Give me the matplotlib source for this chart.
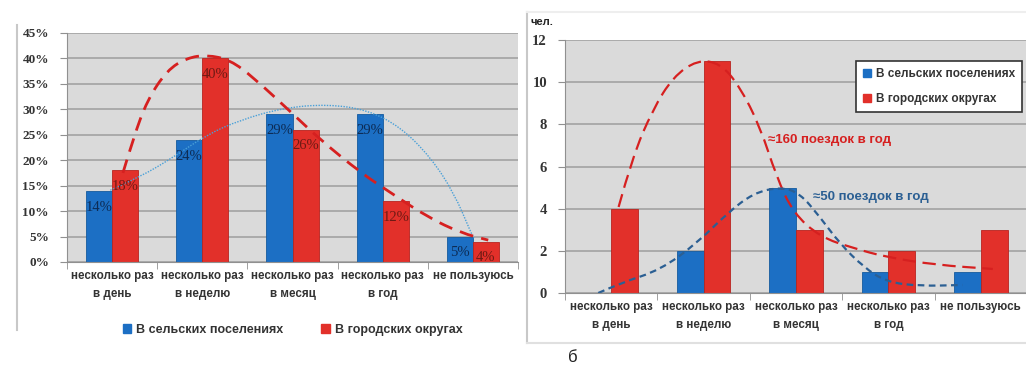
import matplotlib.pyplot as plt
import numpy as np
from matplotlib.patches import Rectangle, PathPatch
from matplotlib.path import Path
from matplotlib.lines import Line2D

plt.rcParams['font.family'] = ['Liberation Sans', 'DejaVu Sans']

categories = ['несколько раз\nв день', 'несколько раз\nв неделю', 'несколько раз\nв месяц',
              'несколько раз\nв год', 'не пользуюсь']
series_names = ['В сельских поселениях', 'В городских округах']

# left chart, percent
rural_pct = [14, 24, 29, 29, 5]
urban_pct = [18, 40, 26, 12, 4]

# right chart, persons
rural_cnt = [0, 2, 5, 1, 1]
urban_cnt = [4, 11, 3, 2, 3]

# hand-drawn trend curves (x in category units)
urban_trend_pct_x = [0.12, 0.24, 0.39, 0.61, 0.83, 1.05, 1.31, 1.57, 1.98, 2.31, 2.76, 3.09, 3.5, 3.87, 4.17]
urban_trend_pct_y = [17.5, 24.6, 31.8, 37.7, 40.1, 40.7, 39.7, 36.2, 29.5, 24.0, 17.5, 13.6, 8.8, 5.7, 4.3]
rural_trend_pct_x = [-0.02, 0.31, 0.68, 1.05, 1.42, 1.9, 2.39, 2.83, 3.2, 3.53, 3.79, 3.98, 4.01]
rural_trend_pct_y = [14.1, 16.7, 20.6, 25.0, 27.9, 30.3, 31.0, 29.9, 26.5, 20.6, 13.6, 5.7, 4.7]

urban_trend_cnt_x = [0.08, 0.23, 0.45, 0.67, 0.93, 1.18, 1.39, 1.61, 1.79, 1.97, 2.26, 2.62, 2.98, 3.52, 4.13]
urban_trend_cnt_y = [4.08, 6.45, 8.7, 10.25, 11.05, 10.9, 9.8, 7.9, 5.5, 3.8, 2.66, 2.13, 1.7, 1.33, 1.14]
rural_trend_cnt_x = [-0.14, 0.1, 0.53, 0.93, 1.26, 1.54, 1.83, 2.04, 2.26, 2.47, 2.73, 2.98, 3.34, 3.8]
rural_trend_cnt_y = [0.0, 0.47, 1.09, 2.37, 3.8, 4.74, 5.03, 4.74, 3.6, 2.37, 1.23, 0.52, 0.33, 0.38]

blue = '#1c6fc4'
red = '#e2302a'
bg = '#dadada'
grid = '#a2a2a2'
txt = '#333333'


def smooth_curve(ax, xs, ys, **kw):
    # quadratic bezier through midpoints, read points act as control points
    pts = list(zip(xs, ys))
    verts = [pts[0]]
    codes = [Path.MOVETO]
    for i in range(1, len(pts) - 1):
        mid = ((pts[i][0] + pts[i + 1][0]) / 2, (pts[i][1] + pts[i + 1][1]) / 2)
        verts += [pts[i], mid]
        codes += [Path.CURVE3, Path.CURVE3]
    verts.append(pts[-1])
    codes.append(Path.LINETO)
    ax.add_patch(PathPatch(Path(verts, codes), fill=False, **kw))


fig = plt.figure(figsize=(10.26, 3.69), dpi=100)

# frames around the two charts
fig.add_artist(Line2D([17 / 1026, 17 / 1026], [1 - 330 / 369, 1 - 25 / 369], color='#c8c8c8', lw=1.5))
fig.add_artist(Line2D([527 / 1026, 527 / 1026], [1 - 343 / 369, 1 - 12 / 369], color='#c8c8c8', lw=1.5))
fig.add_artist(Line2D([527 / 1026, 1], [1 - 343 / 369, 1 - 343 / 369], color='#e0e0e0', lw=1.5))
fig.add_artist(Line2D([527 / 1026, 1], [1 - 12 / 369, 1 - 12 / 369], color='#eeeeee', lw=1.5))

x = np.arange(len(categories))
w = 0.29


def style_axes(ax, ymax, step):
    ax.set_facecolor(bg)
    ax.set_xlim(-0.5, 4.5)
    ax.set_ylim(0, ymax)
    ax.set_yticks(np.arange(0, ymax + step / 2, step))
    ax.yaxis.grid(True, color=grid, lw=1.2)
    ax.set_axisbelow(True)
    for s in ['top', 'right']:
        ax.spines[s].set_visible(False)
    ax.spines['left'].set_color('#909090')
    ax.spines['bottom'].set_color('#909090')
    ax.set_xticks(x)
    ax.set_xticklabels(categories, fontsize=8.4, fontweight='bold', color=txt, linespacing=1.6)
    ax.tick_params(axis='x', length=0, pad=6)
    ax.set_xticks(np.arange(-0.5, 5, 1), minor=True)
    ax.tick_params(axis='x', which='minor', length=5, color='#909090')
    ax.tick_params(axis='y', length=5, color='#909090', labelcolor=txt, pad=8)


# ---------- left chart ----------
ax1 = fig.add_axes([67 / 1026, 1 - 262 / 369, 451 / 1026, 229 / 369])
style_axes(ax1, 45, 5)
ax1.bar(x - w / 2, rural_pct, w, color=blue, edgecolor='#155a9e', lw=0.6)
ax1.bar(x + w / 2, urban_pct, w, color=red, edgecolor='#b8241f', lw=0.6)
ax1.set_yticks(np.arange(0, 46, 5))
ax1.set_yticklabels([f'{v}%' for v in range(0, 46, 5)], fontsize=9.5, family='Liberation Serif',
                    fontweight='bold')
for xi, v in zip(x, rural_pct):
    ax1.text(xi - w / 2, v - 3.2, f'{v}%', ha='center', va='center', fontsize=10.5,
             color='#0d2c55', family='Liberation Serif')
for xi, v in zip(x, urban_pct):
    ax1.text(xi + w / 2, v - 3.2, f'{v}%', ha='center', va='center', fontsize=10.5,
             color='#6e1a14', family='Liberation Serif')
smooth_curve(ax1, rural_trend_pct_x, rural_trend_pct_y, edgecolor='#4aa0d8', lw=1, ls=(0, (1, 1)))
smooth_curve(ax1, urban_trend_pct_x, urban_trend_pct_y, edgecolor='#d62020', lw=2, ls=(0, (5, 3)))

handles = [Rectangle((0, 0), 1, 1, color=blue), Rectangle((0, 0), 1, 1, color=red)]
ax1.legend(handles, series_names, loc='upper center', bbox_to_anchor=(0.5, -0.22), ncol=2,
           frameon=False, prop={'size': 9, 'weight': 'bold'}, handlelength=0.7, handleheight=0.7,
           handletextpad=0.4, columnspacing=3, labelcolor=txt)

# ---------- right chart ----------
ax2 = fig.add_axes([565 / 1026, 1 - 293 / 369, 462 / 1026, 253 / 369])
style_axes(ax2, 12, 2)
ax2.set_yticks(np.arange(0, 13, 2))
ax2.set_yticklabels([str(v) for v in range(0, 13, 2)], fontsize=10.5, family='Liberation Serif',
                    fontweight='bold')
ax2.bar(x - w / 2, rural_cnt, w, color=blue, edgecolor='#155a9e', lw=0.6)
ax2.bar(x + w / 2, urban_cnt, w, color=red, edgecolor='#b8241f', lw=0.6)
smooth_curve(ax2, urban_trend_cnt_x, urban_trend_cnt_y, edgecolor='#d62020', lw=1.6, ls=(0, (6, 3)))
smooth_curve(ax2, rural_trend_cnt_x, rural_trend_cnt_y, edgecolor='#2b5f93', lw=1.6, ls=(0, (3, 2)))
ax2.text(1.7, 7.25, '≈160 поездок в год', color='#d62020', fontsize=9.5, fontweight='bold', va='center')
ax2.text(2.18, 4.55, '≈50 поездок в год', color='#2b5f93', fontsize=9.5, fontweight='bold', va='center')
ax2.text(-0.87, 12.85, 'чел.', fontsize=8, fontweight='bold', color='#222222', va='center')
leg = ax2.legend(handles, series_names, loc='upper left', bbox_to_anchor=(0.617, 0.94),
                 prop={'size': 8.5, 'weight': 'bold'}, handlelength=0.7, handleheight=0.7,
                 handletextpad=0.4, labelspacing=1.1, fancybox=False, edgecolor='#333333',
                 framealpha=1, borderpad=0.6, labelcolor=txt)
leg.get_frame().set_linewidth(1.2)

fig.text(573 / 1026, 1 - 358 / 369, 'б', fontsize=12, ha='center', va='center', color='#222222')

fig.savefig('out.png', dpi=100)
